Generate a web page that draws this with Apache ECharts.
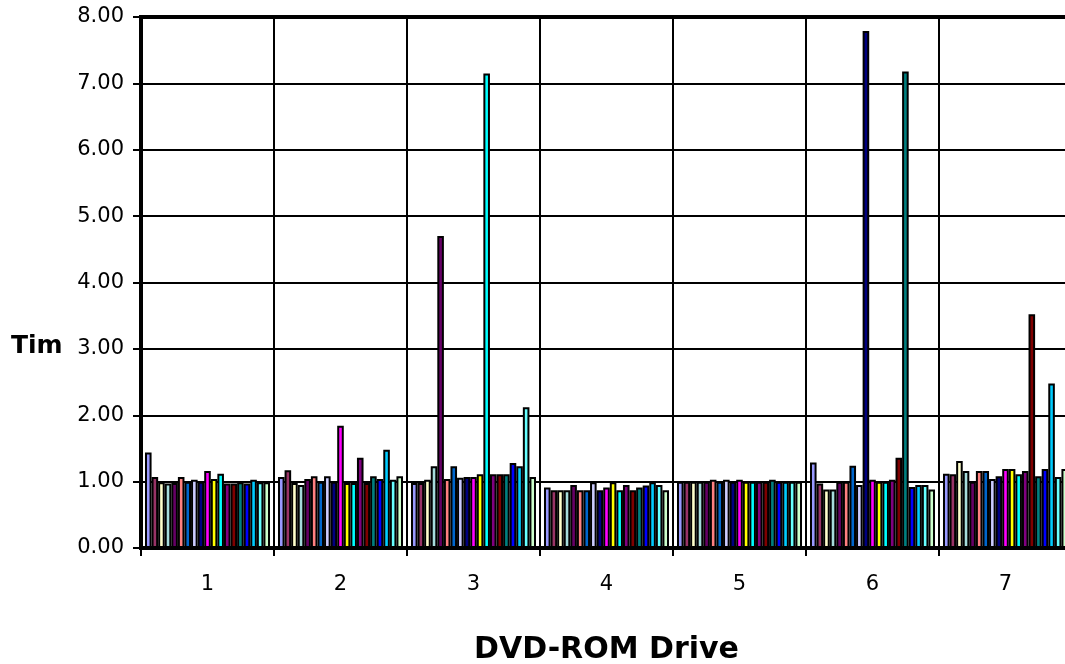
<!DOCTYPE html>
<html>
<head>
<meta charset="utf-8">
<script src="https://cdn.jsdelivr.net/npm/echarts@6/dist/echarts.min.js"></script>
<style>
  html, body { margin: 0; padding: 0; background: #fff; }
  #chart { width: 1065px; height: 664px; }
</style>
</head>
<body>
<div id="chart"></div>
<script>
// Drives on the category axis
const drives = ['1', '2', '3', '4', '5', '6', '7'];

// Y-axis tick values
const yTicks = [0, 1, 2, 3, 4, 5, 6, 7, 8];

// Time per test, one array per drive (19 tests each, in series order)
const drive1 = [1.44, 1.07, 0.99, 0.97, 0.98, 1.07, 1.00, 1.03, 1.00, 1.16, 1.04, 1.12, 0.97, 0.97, 0.99, 0.97, 1.03, 0.99, 0.99];
const drive2 = [1.07, 1.17, 0.98, 0.95, 1.04, 1.08, 1.00, 1.08, 1.00, 1.84, 0.98, 0.98, 1.36, 0.98, 1.08, 1.04, 1.48, 1.03, 1.08];
const drive3 = [0.98, 0.98, 1.03, 1.23, 4.70, 1.04, 1.23, 1.06, 1.07, 1.07, 1.11, 7.15, 1.11, 1.11, 1.11, 1.28, 1.23, 2.12, 1.07];
const drive4 = [0.91, 0.87, 0.87, 0.87, 0.95, 0.87, 0.87, 0.99, 0.87, 0.91, 0.99, 0.87, 0.95, 0.87, 0.91, 0.94, 0.99, 0.95, 0.87];
const drive5 = [1.00, 1.00, 1.00, 1.00, 1.00, 1.03, 1.00, 1.03, 1.00, 1.03, 1.00, 1.00, 1.00, 1.00, 1.03, 1.00, 1.00, 1.00, 1.00];
const drive6 = [1.29, 0.97, 0.88, 0.88, 1.00, 1.00, 1.24, 0.95, 7.79, 1.03, 1.00, 1.00, 1.03, 1.36, 7.18, 0.92, 0.95, 0.95, 0.88];
const drive7 = [1.12, 1.11, 1.31, 1.16, 1.00, 1.16, 1.16, 1.04, 1.08, 1.19, 1.19, 1.11, 1.16, 3.52, 1.08, 1.19, 2.48, 1.07, 1.19];

const driveValues = [drive1, drive2, drive3, drive4, drive5, drive6, drive7];

// Fill colour of each test series
const seriesColors = [
  '#9999FF', '#993366', '#FFFFCC', '#A6DCDC', '#660066', '#FF8080', '#0066CC',
  '#CCCCFF', '#000080', '#FF00FF', '#FFFF00', '#00FFFF', '#800080', '#800000',
  '#008080', '#0000FF', '#00CCFF', '#66FFFF', '#CCFFCC'
];

const labelFont = '"DejaVu Sans", "Liberation Sans", Arial, sans-serif';

const series = seriesColors.map((color, i) => ({
  name: 'Test ' + (i + 1),
  type: 'bar',
  barGap: '0%',
  barCategoryGap: '6%',
  data: driveValues.map(vals => vals[i]),
  itemStyle: { color: color, borderColor: '#000', borderWidth: 2 },
  emphasis: { disabled: true },
  animation: false
}));

const chart = echarts.init(document.getElementById('chart'), null, { renderer: 'canvas' });

// The plot runs a little past the right edge of the page, so the last drive is cut off
chart.setOption({
  backgroundColor: '#fff',
  animation: false,
  grid: {
    left: 141, top: 17, width: 931, height: 531,
    containLabel: false,
    outerBoundsMode: 'none',
    show: true, borderColor: '#000', borderWidth: 4, backgroundColor: 'transparent'
  },
  xAxis: {
    type: 'category',
    data: drives,
    name: 'DVD-ROM Drive',
    nameLocation: 'middle',
    nameGap: 87,
    nameTextStyle: { fontFamily: labelFont, fontWeight: 'bold', fontSize: 30, color: '#000' },
    axisLine: { lineStyle: { color: '#000', width: 4 } },
    axisTick: { show: true, length: 8, lineStyle: { color: '#000', width: 2 } },
    axisLabel: { fontFamily: labelFont, fontSize: 21, color: '#000', margin: 26 },
    splitLine: { show: true, interval: 0, lineStyle: { color: '#000', width: 2 } }
  },
  yAxis: {
    type: 'value',
    min: yTicks[0],
    max: yTicks[yTicks.length - 1],
    interval: 1,
    axisLine: { show: true, lineStyle: { color: '#000', width: 4 } },
    axisTick: { show: true, length: 8, lineStyle: { color: '#000', width: 2 } },
    axisLabel: {
      fontFamily: labelFont, fontSize: 21, color: '#000', margin: 17,
      formatter: v => v.toFixed(2)
    },
    splitLine: { show: true, lineStyle: { color: '#000', width: 2 } }
  },
  graphic: [
    {
      type: 'text', left: 11, top: 334, z: 10,
      style: { text: 'Tim', font: 'bold 25px ' + labelFont, fill: '#000' }
    }
  ],
  series: series
});
</script>
</body>
</html>
